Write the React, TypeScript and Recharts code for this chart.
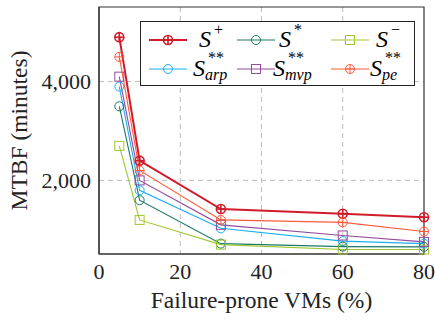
import React from "react";
import {
  LineChart,
  Line,
  XAxis,
  YAxis,
  CartesianGrid,
  Legend,
  ReferenceArea,
} from "recharts";

const failurePct = [5, 10, 30, 60, 80];
const sPlus = [4900, 2400, 1420, 1325, 1255];
const sStar = [3500, 1600, 720, 660, 655];
const sMinus = [2700, 1200, 700, 600, 600];
const sArp = [3900, 1800, 1030, 770, 720];
const sMvp = [4100, 2000, 1100, 885, 755];
const sPe = [4500, 2200, 1200, 1150, 965];

const xTicks = [0, 20, 40, 60, 80];
const yTicks = [2000, 4000];

type Series = {
  key: string;
  values: number[];
  color: string;
  marker: "oplus" | "circle" | "square";
  width: number;
  base: string;
  sup: string;
  sub?: string;
};

const series: Series[] = [
  { key: "sPlus", values: sPlus, color: "#d01c2a", marker: "oplus", width: 2, base: "S", sup: "+" },
  { key: "sStar", values: sStar, color: "#1a7866", marker: "circle", width: 1.1, base: "S", sup: "*" },
  { key: "sMinus", values: sMinus, color: "#9fc62e", marker: "square", width: 1.1, base: "S", sup: "\u2212" },
  { key: "sArp", values: sArp, color: "#1aaef0", marker: "circle", width: 1.1, base: "S", sup: "**", sub: "arp" },
  { key: "sMvp", values: sMvp, color: "#944a9e", marker: "square", width: 1.1, base: "S", sup: "**", sub: "mvp" },
  { key: "sPe", values: sPe, color: "#ff5a3c", marker: "oplus", width: 1.1, base: "S", sup: "**", sub: "pe" },
];

const data = failurePct.map((x, i) => {
  const row: Record<string, number> = { x };
  series.forEach((s) => {
    row[s.key] = s.values[i];
  });
  return row;
});

const FONT = "'Liberation Serif', 'DejaVu Serif', serif";

function Marker({ cx, cy, s }: { cx: number; cy: number; s: Series }) {
  const r = 4.5;
  const sw = s.width > 1.5 ? 1.6 : 1;
  if (s.marker === "square") {
    return (
      <rect x={cx - r} y={cy - r} width={2 * r} height={2 * r} fill="none" stroke={s.color} strokeWidth={sw} />
    );
  }
  if (s.marker === "circle") {
    return <circle cx={cx} cy={cy} r={r} fill="none" stroke={s.color} strokeWidth={sw} />;
  }
  return (
    <g stroke={s.color} strokeWidth={sw} fill="none">
      <circle cx={cx} cy={cy} r={r} />
      <line x1={cx - r} y1={cy} x2={cx + r} y2={cy} />
      <line x1={cx} y1={cy - r} x2={cx} y2={cy + r} />
    </g>
  );
}

function makeDot(s: Series) {
  return (props: any) => {
    const { cx, cy, index } = props;
    if (cx == null || cy == null) return <g key={`${s.key}-${index}`} />;
    return (
      <g key={`${s.key}-${index}`}>
        <Marker cx={cx} cy={cy} s={s} />
      </g>
    );
  };
}

function LegendLabel({ s }: { s: Series }) {
  const hasSub = !!s.sub;
  return (
    <span
      style={{
        position: "relative",
        display: "inline-block",
        fontFamily: FONT,
        fontStyle: "italic",
        fontSize: 24,
        lineHeight: "24px",
        height: 24,
        width: hasSub ? 14 + s.sub!.length * 9 : 26,
        whiteSpace: "nowrap",
      }}
    >
      <span>{s.base}</span>
      <span
        style={{
          position: "absolute",
          left: 15,
          top: hasSub ? -6 : -5,
          fontSize: 16,
          lineHeight: "16px",
          fontStyle: "normal",
        }}
      >
        {s.sup}
      </span>
      {hasSub ? (
        <span style={{ position: "absolute", left: 12, top: 11, fontSize: 16, lineHeight: "16px" }}>{s.sub}</span>
      ) : null}
    </span>
  );
}

function LegendSwatch({ s }: { s: Series }) {
  return (
    <svg width={38} height={14} style={{ display: "block" }}>
      <line x1={0} y1={7} x2={38} y2={7} stroke={s.color} strokeWidth={s.width} />
      <Marker cx={19} cy={7} s={s} />
    </svg>
  );
}

function LegendBox() {
  const colLeft = [8, 96, 190];
  const textLeft = [58, 138, 235];
  const rowMid = [18, 47];
  return (
    <div
      style={{
        position: "relative",
        width: 275,
        height: 65,
        border: "1.2px solid #222",
        background: "#fff",
        boxSizing: "border-box",
      }}
    >
      {series.map((s, i) => {
        const col = i % 3;
        const row = Math.floor(i / 3);
        const tl = row === 0 ? textLeft[col] : textLeft[col] - 6;
        return (
          <React.Fragment key={s.key}>
            <div style={{ position: "absolute", left: colLeft[col], top: rowMid[row] - 7 }}>
              <LegendSwatch s={s} />
            </div>
            <div style={{ position: "absolute", left: tl, top: rowMid[row] - 13 }}>
              <LegendLabel s={s} />
            </div>
          </React.Fragment>
        );
      })}
    </div>
  );
}

const tickStyle = { fill: "#222", fontSize: 22, fontFamily: FONT, style: { fontFamily: FONT } };
const titleStyle = { fill: "#222", fontSize: 23.5, fontFamily: FONT };

export default function App() {
  return (
    <div style={{ position: "absolute", left: 0, top: 0, background: "#fff", fontFamily: FONT }}>
      <LineChart
        width={435}
        height={320}
        data={data}
        margin={{ top: 7, right: 11, left: 0, bottom: 0 }}
        style={{ fontFamily: FONT }}
      >
        <CartesianGrid stroke="#bdbdbd" strokeDasharray="5 4" strokeWidth={1} verticalValues={[20, 40, 60]} horizontalValues={yTicks} />
        <XAxis
          dataKey="x"
          type="number"
          domain={[0, 80]}
          ticks={xTicks}
          tickLine={false}
          axisLine={{ stroke: "#333", strokeWidth: 1.2 }}
          tick={tickStyle}
          tickMargin={3}
          height={66}
          label={{ value: "Failure-prone VMs (%)", position: "insideBottom", offset: 12, ...titleStyle, style: { fontFamily: FONT } }}
        />
        <YAxis
          type="number"
          domain={[510, 5510]}
          ticks={yTicks}
          tickFormatter={(v: number) => v.toLocaleString("en-US")}
          tickLine={false}
          axisLine={{ stroke: "#333", strokeWidth: 1.2 }}
          tick={tickStyle}
          tickMargin={2}
          width={99}
          label={{
            value: "MTBF (minutes)",
            angle: -90,
            position: "insideLeft",
            offset: 19,
            ...titleStyle,
            style: { textAnchor: "middle", fontFamily: FONT },
          }}
        />
        <ReferenceArea x1={0} x2={80} y1={510} y2={5510} fill="none" stroke="#333" strokeWidth={1.2} ifOverflow="extendDomain" />
        {series.map((s) => (
          <Line
            key={s.key}
            dataKey={s.key}
            type="linear"
            stroke={s.color}
            strokeWidth={s.width}
            dot={makeDot(s)}
            activeDot={false}
            isAnimationActive={false}
          />
        ))}
        <Legend
          layout="vertical"
          align="center"
          verticalAlign="middle"
          wrapperStyle={{ left: 140, top: 21, width: 275, height: 65 }}
          content={() => <LegendBox />}
        />
      </LineChart>
    </div>
  );
}
